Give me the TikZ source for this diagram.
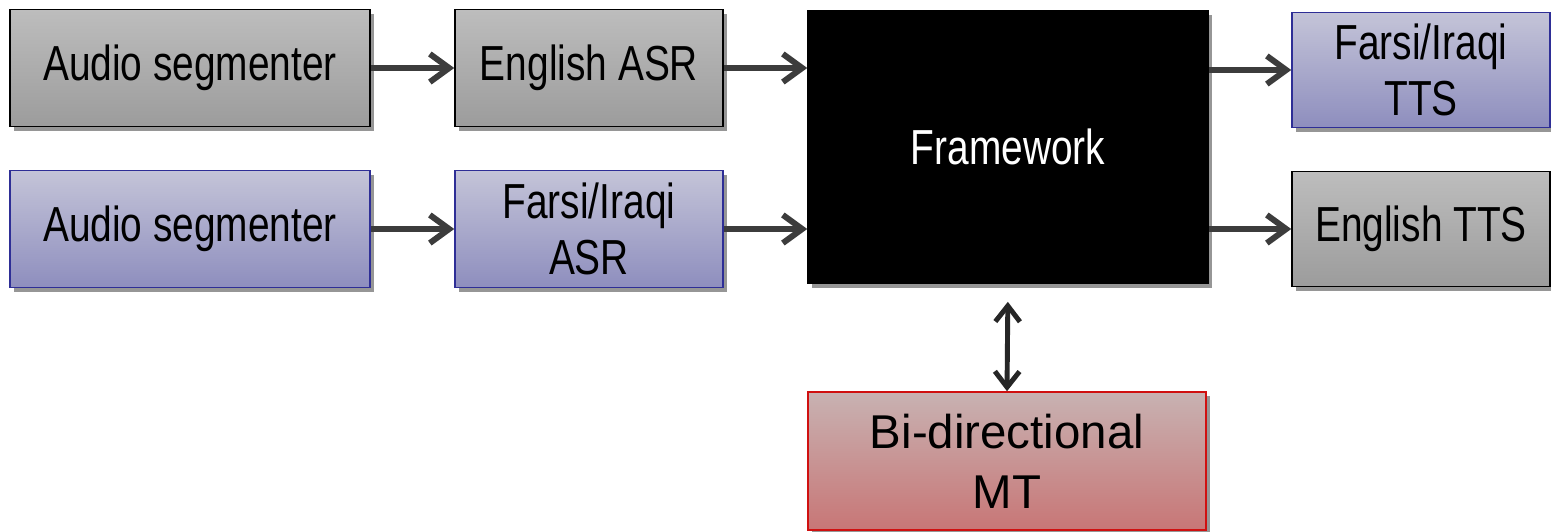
\documentclass[tikz,border=0pt]{standalone}
\usepackage{fontspec}
\setmainfont{Liberation Sans}
\newfontfamily\narrowfont[FakeStretch=0.79]{Liberation Sans}
\usetikzlibrary{arrows.meta,shadows}

\definecolor{graytop}{HTML}{BDBDBD}
\definecolor{graybot}{HTML}{9C9C9C}
\definecolor{bluetop}{HTML}{C4C4D8}
\definecolor{bluebot}{HTML}{8E8EBE}
\definecolor{blueline}{HTML}{2E2E96}
\definecolor{redtop}{HTML}{C8B2B2}
\definecolor{redbot}{HTML}{C87676}
\definecolor{redline}{HTML}{D01010}
\definecolor{arrowgray}{HTML}{3C3C3C}

\begin{document}
\begin{tikzpicture}[x=0.02cm,y=-0.02cm,
  box/.style={rectangle,line width=0.9pt,align=center,inner sep=0pt,
    font=\narrowfont\fontsize{28}{32}\selectfont,
    drop shadow={shadow xshift=2.5pt,shadow yshift=-2.5pt,fill=black!75,opacity=0.55}},
  graybox/.style={box,draw=black,top color=graytop,bottom color=graybot},
  bluebox/.style={box,draw=blueline,top color=bluetop,bottom color=bluebot},
  flow/.style={line width=3.4pt,arrowgray,-{Straight Barb[length=11pt,width=16pt]}}]
\useasboundingbox (0,0) rectangle (1551,531);

% English side (top row)
\node[graybox,minimum width=7.2cm,minimum height=2.34cm] (seg1) at (190,68) {Audio segmenter};
\node[graybox,minimum width=5.36cm,minimum height=2.34cm] (easr) at (589,68) {English ASR};

% Farsi/Iraqi side (bottom row)
\node[bluebox,minimum width=7.2cm,minimum height=2.34cm] (seg2) at (190,229) {Audio segmenter};
\node[bluebox,minimum width=5.36cm,minimum height=2.34cm] (fasr) at (589,229) {Farsi/Iraqi\\ASR};

% Framework in the middle
\node[box,draw=black,fill=black,text=white,minimum width=8cm,minimum height=5.46cm] (fw) at (1008,147) {Framework};

% Outputs
\node[bluebox,minimum width=5.16cm,minimum height=2.3cm] (ftts) at (1421,70) {Farsi/Iraqi\\TTS};
\node[graybox,minimum width=5.16cm,minimum height=2.3cm] (etts) at (1421,229) {English TTS};

% Translation
\node[box,draw=redline,top color=redtop,bottom color=redbot,
  font=\fontsize{27}{34}\selectfont,minimum width=7.96cm,minimum height=2.76cm] (mt) at (1007,461) {Bi-directional\\MT};

% Connectors
\draw[flow] (seg1) -- (easr);
\draw[flow] (seg2) -- (fasr);
\draw[flow] (easr.east) -- (easr.east -| fw.west);
\draw[flow] (fasr.east) -- (fasr.east -| fw.west);
\draw[flow] (fw.east |- ftts.west) -- (ftts.west);
\draw[flow] (fw.east |- etts.west) -- (etts.west);
\draw[line width=2.8pt,black!85,{Straight Barb[length=9pt,width=14pt]}-{Straight Barb[length=9pt,width=14pt]},
  shorten <=10pt] (fw.south) -- (mt.north);
\end{tikzpicture}
\end{document}
